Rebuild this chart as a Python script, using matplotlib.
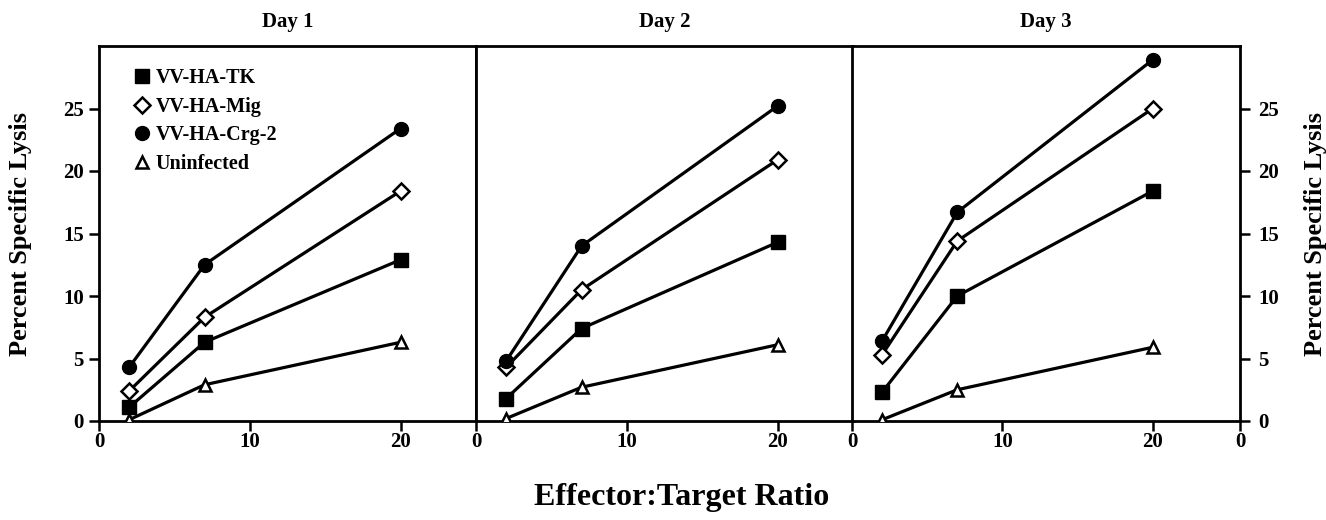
import matplotlib
matplotlib.use("Agg")
import matplotlib.pyplot as plt
from matplotlib.lines import Line2D

plt.rcParams["font.family"] = ["Liberation Serif", "DejaVu Serif"]
plt.rcParams["font.weight"] = "bold"

# E:T ratios and percent specific lysis
ratios = [2, 7, 20]
days = ["Day 1", "Day 2", "Day 3"]
series = ["VV-HA-TK", "VV-HA-Mig", "VV-HA-Crg-2", "Uninfected"]

tk     = [[1.1, 6.3, 12.9], [1.8, 7.4, 14.3], [2.3, 10.0, 18.4]]
mig    = [[2.4, 8.3, 18.4], [4.3, 10.5, 20.9], [5.3, 14.4, 25.0]]
crg2   = [[4.3, 12.5, 23.4], [4.8, 14.0, 25.2], [6.4, 16.7, 28.9]]
uninf  = [[0.1, 2.9, 6.3], [0.2, 2.7, 6.1], [0.1, 2.5, 5.9]]

styles = {
    "VV-HA-TK":    dict(marker="s", ms=10, mfc="black", mec="black"),
    "VV-HA-Mig":   dict(marker="D", ms=8.5, mfc="white", mec="black", mew=1.8),
    "VV-HA-Crg-2": dict(marker="o", ms=10, mfc="black", mec="black"),
    "Uninfected":  dict(marker="^", ms=9, mfc="white", mec="black", mew=1.8),
}
data = {"VV-HA-TK": tk, "VV-HA-Mig": mig, "VV-HA-Crg-2": crg2, "Uninfected": uninf}

fig = plt.figure(figsize=(13.26, 5.2), dpi=100)
bot, h = 99 / 520, 375 / 520
boxes = [(99, 377, 25), (476, 377, 25), (852, 388, 25.8)]

axes = []
for i, (x0, w, xmax) in enumerate(boxes):
    ax = fig.add_axes([x0 / 1326, bot, w / 1326, h])
    axes.append(ax)
    for name in series:
        ax.plot(ratios, data[name][i], color="black", lw=2.3, zorder=3, **styles[name])
    ax.set_xlim(0, xmax)
    ax.set_ylim(0, 30)
    for sp in ax.spines.values():
        sp.set_linewidth(2)
    ax.set_title(days[i], fontsize=15, fontweight="bold", pad=14)
    if i == 2:
        ax.set_xticks([0, 10, 20, xmax])
        ax.set_xticklabels(["0", "10", "20", "0"])
    else:
        ax.set_xticks([0, 10, 20])
    ax.tick_params(axis="x", direction="out", length=7, width=1.8,
                   labelsize=15, pad=1)
    ax.set_yticks([0, 5, 10, 15, 20, 25])
    if i == 0:
        ax.tick_params(axis="y", direction="out", length=7, width=1.8,
                       labelsize=15, pad=4)
        ax.set_ylabel("Percent Specific Lysis", fontsize=19, fontweight="bold", labelpad=22)
    elif i == 1:
        ax.tick_params(axis="y", left=False, labelleft=False)
    else:
        ax.tick_params(axis="y", left=False, labelleft=False, right=True, labelright=True,
                       direction="out", length=7, width=1.8, labelsize=15, pad=6)
        ax.yaxis.set_label_position("right")
        ax.set_ylabel("Percent Specific Lysis", fontsize=19, fontweight="bold", labelpad=18)
    for lab in ax.get_xticklabels() + ax.get_yticklabels():
        lab.set_fontweight("bold")

handles = [Line2D([], [], ls="none", color="black", **styles[n]) for n in series]
axes[0].legend(handles, series, loc="upper left", frameon=False,
               prop={"size": 14.5, "weight": "bold"}, handlelength=0.8,
               handletextpad=0.3, labelspacing=0.42,
               bbox_to_anchor=(0.07, 0.962), borderaxespad=0)

fig.text(682 / 1326, 1 - 497 / 520, "Effector:Target Ratio", ha="center", va="center",
         fontsize=23, fontweight="bold")

fig.savefig("out.png", dpi=100)
